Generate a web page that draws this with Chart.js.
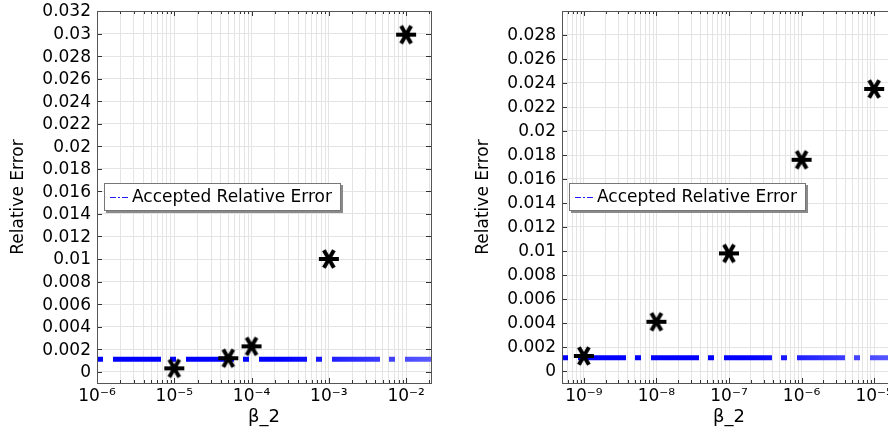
<!DOCTYPE html>
<html>
<head>
<meta charset="utf-8">
<script src="https://cdn.jsdelivr.net/npm/chart.js@4.4.1/dist/chart.umd.min.js"></script>
<style>
html,body{margin:0;padding:0;background:#fff;width:888px;height:429px;overflow:hidden;}
.wrap{position:absolute;top:0;width:465px;height:429px;}
</style>
</head>
<body>
<div class="wrap" style="left:0"><canvas id="c1" width="465" height="429"></canvas></div>
<div class="wrap" style="left:465px"><canvas id="c2" width="465" height="429"></canvas></div>
<script>
// ---------- data ----------
const leftBeta = [1e-5, 5e-5, 1e-4, 1e-3, 1e-2];
const leftError = [0.0003, 0.0012, 0.00225, 0.0100, 0.0299];
const rightBeta = [1e-9, 1e-8, 1e-7, 1e-6, 1e-5];
const rightError = [0.00125, 0.0041, 0.0098, 0.0176, 0.0235];
const acceptedError = 0.0011;

const leftXRange = [1e-6, 0.021];
const rightXRange = [5e-10, 2e-5];
const leftYRange = [-0.001, 0.032];
const rightYRange = [-0.001, 0.030];

const leftXMajor = [1e-6, 1e-5, 1e-4, 1e-3, 1e-2];
const rightXMajor = [1e-10, 1e-9, 1e-8, 1e-7, 1e-6, 1e-5];
const leftYTicks = [0, 0.002, 0.004, 0.006, 0.008, 0.01, 0.012, 0.014, 0.016, 0.018, 0.02, 0.022, 0.024, 0.026, 0.028, 0.03, 0.032];
const rightYTicks = [0, 0.002, 0.004, 0.006, 0.008, 0.01, 0.012, 0.014, 0.016, 0.018, 0.02, 0.022, 0.024, 0.026, 0.028];

const xTitle = 'β_2';
const yTitle = 'Relative Error';
const legendLabel = 'Accepted Relative Error';

// ---------- helpers ----------
const FONT = 'DejaVu Sans';
const SUP = {'-':'⁻','0':'⁰','1':'¹','2':'²','3':'³','4':'⁴','5':'⁵','6':'⁶','7':'⁷','8':'⁸','9':'⁹'};
function powLabel(v){
  const e = Math.round(Math.log10(v));
  return '10' + String(e).split('').map(c => SUP[c]).join('');
}
function isMajor(v, majors){
  return majors.some(m => Math.abs(v / m - 1) < 1e-6);
}
function logTickValues(majors, range){
  const out = [];
  majors.forEach(m => {
    for (let k = 1; k <= 9; k++) {
      const v = m * k;
      if (v >= range[0] * (1 - 1e-9) && v <= range[1] * (1 + 1e-9)) out.push(v);
    }
  });
  return out;
}
function makeStar(){
  const c = document.createElement('canvas');
  const s = 26; c.width = s; c.height = s;
  const g = c.getContext('2d');
  g.strokeStyle = '#000'; g.lineWidth = 4; g.lineCap = 'butt';
  g.translate(s/2, s/2);
  const r = 10;
  [0, 60, 120].forEach(a => {
    const t = a * Math.PI / 180;
    g.beginPath();
    g.moveTo(-r*Math.cos(t), -r*Math.sin(t));
    g.lineTo(r*Math.cos(t), r*Math.sin(t));
    g.stroke();
  });
  return c;
}
const starImg = makeStar();

const framePlugin = {
  id: 'frame',
  afterDraw(chart){
    const ctx = chart.ctx, ca = chart.chartArea;
    const xs = chart.scales.x, ys = chart.scales.y;
    const majors = chart.options.plugins.frame.majors;
    ctx.save();
    ctx.strokeStyle = '#333'; ctx.lineWidth = 1;
    xs.ticks.forEach(t => {
      const px = Math.round(xs.getPixelForValue(t.value)) + 0.5;
      if (px < ca.left + 1 || px > ca.right - 1) return;
      const len = isMajor(t.value, majors) ? 5 : 3;
      ctx.beginPath();
      ctx.moveTo(px, ca.bottom); ctx.lineTo(px, ca.bottom - len);
      ctx.moveTo(px, ca.top); ctx.lineTo(px, ca.top + len);
      ctx.stroke();
    });
    ys.ticks.forEach(t => {
      const py = Math.round(ys.getPixelForValue(t.value)) + 0.5;
      ctx.beginPath();
      ctx.moveTo(ca.left, py); ctx.lineTo(ca.left + 5, py);
      ctx.moveTo(ca.right, py); ctx.lineTo(ca.right - 5, py);
      ctx.stroke();
    });
    ctx.strokeStyle = '#555';
    ctx.strokeRect(Math.round(ca.left) + 0.5, Math.round(ca.top) + 0.5,
                   Math.round(ca.right - ca.left), Math.round(ca.bottom - ca.top));
    // legend box
    const lx = Math.round(ca.left) + 7, ly = Math.round(ca.top) + 172, lw = 237, lh = 28;
    ctx.fillStyle = '#8a8a8a';
    ctx.fillRect(lx + 2, ly + 2, lw, lh);
    ctx.fillStyle = '#fff';
    ctx.fillRect(lx, ly, lw, lh);
    ctx.strokeStyle = '#777';
    ctx.strokeRect(lx + 0.5, ly + 0.5, lw - 1, lh - 1);
    ctx.strokeStyle = '#2020ff'; ctx.lineWidth = 1;
    ctx.setLineDash([6, 2, 2, 2]);
    ctx.beginPath();
    ctx.moveTo(lx + 6, ly + lh/2 + 0.5); ctx.lineTo(lx + 24, ly + lh/2 + 0.5);
    ctx.stroke();
    ctx.setLineDash([]);
    ctx.fillStyle = '#000';
    ctx.font = '17px "' + FONT + '"';
    ctx.textBaseline = 'middle'; ctx.textAlign = 'left';
    ctx.fillText(chart.data.datasets[1].label, lx + 28, ly + lh/2 + 1);
    ctx.restore();
  }
};

function buildChart(id, betas, errors, xRange, yRange, xMajors, yTicks){
  const xTicks = logTickValues(xMajors, xRange);
  const lineColor = (c) => {
    const ca = c.chart.chartArea;
    if (!ca) return '#0000ff';
    const g = c.chart.ctx.createLinearGradient(ca.left, 0, ca.right, 0);
    g.addColorStop(0, '#0000ff');
    g.addColorStop(0.55, '#0000ff');
    g.addColorStop(1, '#5a5aff');
    return g;
  };
  return new Chart(document.getElementById(id), {
    type: 'scatter',
    data: {
      datasets: [
        {
          label: 'data',
          data: betas.map((b, i) => ({x: b, y: errors[i]})),
          pointStyle: starImg,
          pointRadius: 10,
          showLine: false
        },
        {
          label: legendLabel,
          type: 'line',
          data: [{x: xRange[0], y: acceptedError}, {x: xRange[1], y: acceptedError}],
          borderColor: lineColor,
          borderWidth: 5,
          borderDash: [6, 10, 48, 9],
          borderCapStyle: 'butt',
          pointRadius: 0,
          fill: false
        }
      ]
    },
    options: {
      responsive: false,
      animation: false,
      events: [],
      layout: {padding: {left: 0, top: 11, right: 34, bottom: 0}},
      plugins: {
        legend: {display: false},
        tooltip: {enabled: false},
        frame: {majors: xMajors}
      },
      scales: {
        x: {
          type: 'logarithmic',
          min: xRange[0], max: xRange[1],
          afterBuildTicks: s => { s.ticks = xTicks.map(v => ({value: v, major: false})); },
          afterFit: s => { s.height = 46; s.paddingLeft = 0; s.paddingRight = 0; },
          border: {display: false},
          grid: {color: '#e4e4e4', drawTicks: false, lineWidth: 1},
          ticks: {
            autoSkip: false, maxRotation: 0, padding: 3, color: '#000',
            font: {family: FONT, size: 17},
            callback: (v) => isMajor(v, xMajors) ? powLabel(v) : ''
          },
          title: {display: true, text: xTitle, color: '#000',
                  font: {family: FONT, size: 18}, padding: {top: 0, bottom: 1}}
        },
        y: {
          type: 'linear',
          min: yRange[0], max: yRange[1],
          afterBuildTicks: s => { s.ticks = yTicks.map(v => ({value: v})); },
          afterFit: s => { s.width = 97; s.paddingTop = 0; s.paddingBottom = 0; },
          border: {display: false},
          grid: {color: '#e4e4e4', drawTicks: false, lineWidth: 1},
          ticks: {
            autoSkip: false, padding: 6, color: '#000', labelOffset: 1,
            font: {family: FONT, size: 17},
            callback: (v) => String(parseFloat(Number(v).toFixed(4)))
          },
          title: {display: true, text: yTitle, color: '#000',
                  font: {family: FONT, size: 17}, padding: {top: 8, bottom: 0}}
        }
      }
    },
    plugins: [framePlugin]
  });
}

buildChart('c1', leftBeta, leftError, leftXRange, leftYRange, leftXMajor, leftYTicks);
buildChart('c2', rightBeta, rightError, rightXRange, rightYRange, rightXMajor, rightYTicks);
</script>
</body>
</html>
